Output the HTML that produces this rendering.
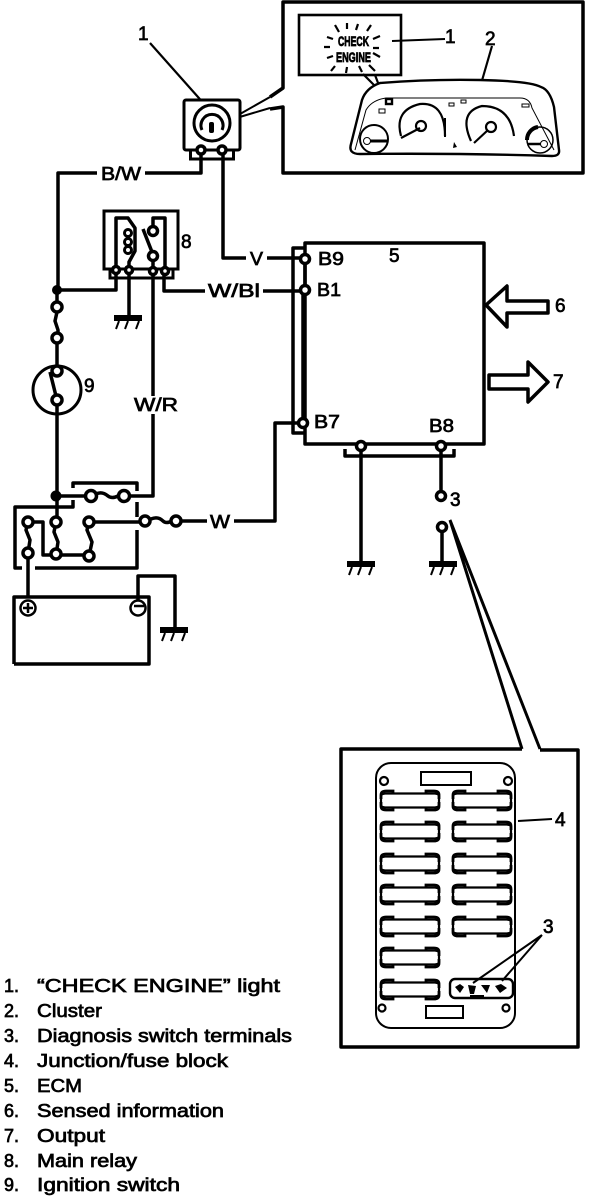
<!DOCTYPE html>
<html><head><meta charset="utf-8"><style>
html,body{margin:0;padding:0;background:#fff;width:608px;height:1198px;overflow:hidden}
svg{display:block}
text{font-family:"Liberation Sans",sans-serif;fill:#000}
.l{font-size:18px;stroke:#000;stroke-width:.7}
.n{font-size:19px;stroke:#000;stroke-width:.7}
.w{fill:none;stroke:#000;stroke-width:3.5;stroke-linejoin:round}
.t{fill:none;stroke:#000;stroke-width:2.2}
.c{fill:#fff;stroke:#000;stroke-width:3.5}
</style></head><body>
<svg width="608" height="1198" viewBox="0 0 608 1198" xmlns="http://www.w3.org/2000/svg">
<defs>
<g id="fl">
<path d="M2 6Q2 4 6 3.500H56Q60 4 60 6V15Q60 17 56 17.500H6Q2 17 2 15Z" fill="#fff" stroke="#000" stroke-width="2.200"/>
<path d="M2 9V5Q2 1 7 1H14V3M47 3V1H55Q60 1 60 5V9M2 12V16Q2 20 7 20H14V18M47 18V20H55Q60 20 60 16V12" fill="none" stroke="#000" stroke-width="2.800"/>
</g>
<g id="gnd"><rect x="0" y="0" width="28" height="6" fill="#000"/><path d="M5 6l-3 8M14 6l-3 8M25 6l-3 8" fill="none" stroke="#000" stroke-width="2"/></g>
</defs>

<!-- cluster callout -->
<path class="w" d="M270 97L283 88V2H583V173H283V107L270 109"/>
<rect x="299" y="15" width="102" height="60" fill="#fff" stroke="#000" stroke-width="2.600"/>
<text x="338" y="46" font-size="14" font-weight="700" textLength="31" lengthAdjust="spacingAndGlyphs" style="stroke:#000;stroke-width:.8">CHECK</text>
<text x="336" y="62" font-size="14" font-weight="700" textLength="35" lengthAdjust="spacingAndGlyphs" style="stroke:#000;stroke-width:.8">ENGINE</text>
<path class="t" d="M335 25l4 7M347 23v6M358 24l-2 6M371 25l-4 6M327 37l6 2M330 47h-6M327 58l6-2M380 36l-7 3M373 48h6M373 53l7 4M335 66l-4 5M347 67l-1 6M359 66l3 6M369 65l6 6"/>
<path d="M392 41L445 39" fill="none" stroke="#000" stroke-width="2"/>
<text x="445" y="43" class="n">1</text><text x="485" y="45" class="n" font-size="21">2</text>
<path class="t" d="M492 46L481 84"/>
<path class="t" d="M363 74L386 97M375 75L383 96"/>
<path d="M380 83Q430 79 480 80Q530 81 541 87Q550 90 554 107L559 150Q560 156 552 156Q460 153 360 154Q348 154 351 144L362 100Q366 88 380 83Z" fill="#fff" stroke="#000" stroke-width="2.400"/>
<path d="M386 98H520Q530 98 532 108L554 150" fill="none" stroke="#000" stroke-width="1"/>
<path d="M386 98Q372 100 366 110L355 150" fill="none" stroke="#000" stroke-width="1"/>
<rect x="386" y="99" width="6" height="5" fill="#fff" stroke="#000" stroke-width="2.400"/>
<path class="t" d="M401 136Q394 110 420 104Q445 102 445 136"/><path d="M445 118V137" stroke="#000" stroke-width="2"/>
<path class="t" d="M401 138L420 128M471 141Q458 112 482 106Q510 106 514 136"/><path class="t" d="M474 143L488 130"/>
<circle cx="421" cy="126" r="5" class="t" fill="#fff"/><circle cx="491" cy="127" r="5" class="t" fill="#fff"/>
<circle cx="374" cy="139" r="14" fill="none" stroke="#000" stroke-width="2"/><path d="M368 141H387" stroke="#000" stroke-width="3"/><circle cx="367" cy="141" r="3.500" fill="#fff" stroke="#000"/>
<circle cx="540" cy="140" r="13" fill="none" stroke="#000" stroke-width="1.500"/><path d="M527 140A13 13 0 0 1 538 127" fill="none" stroke="#000" stroke-width="4"/><path d="M528 144H545" stroke="#000" stroke-width="2.500"/><circle cx="544" cy="144" r="3.500" fill="#fff" stroke="#000"/>
<path d="M449 103h5v3h-5zM461 100h5v3h-5zM522 104h7v3h-7zM379 109h6v4h-6z" fill="none" stroke="#000"/>
<path d="M454 142l3 5-4 1z" fill="#000"/>

<!-- bulb -->
<text x="138" y="40" class="n" font-size="21">1</text>
<path class="t" d="M150 43L206 106"/>
<path d="M233 118L270 97M233 119L270 108" stroke="#000" stroke-width="2" fill="none"/>
<rect x="184" y="100" width="56" height="50" rx="2" fill="#fff" stroke="#000" stroke-width="3"/>
<rect x="190.500" y="150" width="43" height="9" fill="#fff" stroke="#000" stroke-width="3"/>
<circle cx="212" cy="123" r="18" fill="#fff" stroke="#000" stroke-width="3"/>
<path d="M202 130A11 11 0 1 1 222 130" fill="#fff" stroke="#000" stroke-width="3"/>
<rect x="209" y="122" width="5" height="11" rx="2" fill="#000"/>
<path class="w" d="M201 152V173H58V289M223 152V258H300"/>
<circle cx="201" cy="150" r="4" class="c"/><circle cx="222" cy="150" r="4" class="c"/>

<!-- wire labels -->
<rect x="97" y="165" width="48" height="17" fill="#fff"/>
<text x="101" y="180" class="l" textLength="40" lengthAdjust="spacingAndGlyphs">B/W</text>
<rect x="246" y="250" width="21" height="16" fill="#fff"/>
<text x="250" y="265" class="l" textLength="13" lengthAdjust="spacingAndGlyphs">V</text>

<!-- relay -->
<rect x="104" y="211" width="74" height="58" fill="#fff" stroke="#000" stroke-width="3"/>
<rect x="110" y="269" width="63" height="9" fill="#fff" stroke="#000" stroke-width="3"/>
<path class="w" d="M116 270V218H128L135 228V251L129 262V270"/>
<circle cx="128" cy="233" r="3.500" fill="#fff" stroke="#000" stroke-width="3"/><circle cx="128" cy="242" r="3.500" fill="#fff" stroke="#000" stroke-width="3"/><circle cx="128" cy="250" r="3.500" fill="#fff" stroke="#000" stroke-width="3"/>
<path class="w" d="M153 225V218H165V271M153 256V271M143 229L152 252"/>
<circle cx="153" cy="231" r="4.500" class="c"/><circle cx="153" cy="256" r="4.500" class="c"/>
<path class="w" d="M57 290H116V272M129 272V315M153 272V496H124M164 272V291H300"/>
<circle cx="116" cy="270" r="3.500" class="c"/><circle cx="129" cy="270" r="3.500" class="c"/><circle cx="153" cy="271" r="3.500" class="c"/><circle cx="165" cy="271" r="3.500" class="c"/>
<use href="#gnd" x="114" y="315"/>
<text x="181" y="248" class="n">8</text>
<rect x="205" y="284" width="58" height="14" fill="#fff"/>
<text x="208" y="297" class="l" textLength="52" lengthAdjust="spacingAndGlyphs">W/Bl</text>
<rect x="132" y="396" width="46" height="18" fill="#fff"/>
<text x="134" y="411" class="l" textLength="44" lengthAdjust="spacingAndGlyphs">W/R</text>

<!-- ignition -->
<circle cx="57" cy="290" r="5" fill="#000"/>
<path class="w" d="M57 290V307M57 312L55 321L58 330V338M57 343V368M57 400V522"/>
<circle cx="57" cy="307" r="5" class="c"/><circle cx="57" cy="338" r="5" class="c"/>
<circle cx="57" cy="390" r="24" fill="none" stroke="#000" stroke-width="3"/>
<circle cx="57" cy="371" r="5" class="c"/><circle cx="57" cy="400" r="5" class="c"/>
<path class="w" d="M50 372L56 396"/>
<text x="84" y="392" class="n">9</text>

<!-- main fuse box -->
<path class="w" d="M73 488V483H137V491M137 502V517M137 530V568H35M22 568H15V507H73V500"/>
<circle cx="56" cy="496" r="5.500" fill="#000"/>
<path class="w" d="M56 496H88M96 494Q102 491 108 496Q112 499 118 496"/>
<circle cx="91" cy="496" r="5.500" class="c"/><circle cx="124" cy="496" r="5.500" class="c"/>
<path class="w" d="M28 522L26 530L30 540L28 553M28 522H43V555H89M56 522L54 532L58 542L56 555M89 522L87 530L92 542L89 556M89 522H145M151 519Q158 516 163 521Q166 524 172 521M176 521H207M234 521H275V423H300M28 553V597"/>
<circle cx="28" cy="522" r="5" class="c"/><circle cx="56" cy="522" r="5" class="c"/><circle cx="89" cy="522" r="5" class="c"/><circle cx="28" cy="553" r="5" class="c"/><circle cx="56" cy="554" r="5" class="c"/><circle cx="89" cy="556" r="5" class="c"/>
<circle cx="145" cy="521" r="5" class="c"/><circle cx="176" cy="521" r="5" class="c"/>
<text x="210" y="528" class="l" textLength="20" lengthAdjust="spacingAndGlyphs">W</text>

<!-- battery -->
<path class="w" d="M14 664V597H149V664H14"/>
<circle cx="28" cy="608" r="7.500" fill="#fff" stroke="#000" stroke-width="2.500"/><path d="M23 608H33M28 603V613" stroke="#000" stroke-width="2.500"/>
<circle cx="138" cy="608" r="7.500" fill="#fff" stroke="#000" stroke-width="2.500"/><path d="M134 606H144" stroke="#000" stroke-width="2.500"/>
<path class="w" d="M138 600V576H175V628"/>
<use href="#gnd" x="160" y="627"/>

<!-- ECM -->
<path class="w" d="M305 243H484V444H305ZM305 248H293V433H305"/>
<path class="w" d="M305 259V290M303 290V423"/>
<path class="w" d="M345 449V456H454V449M361 446V562M441 446V496M442 527V562"/>
<circle cx="305" cy="259" r="4.500" class="c"/><circle cx="305" cy="290" r="4.500" class="c"/><circle cx="303" cy="423" r="4.500" class="c"/>
<circle cx="361" cy="446" r="4.500" class="c"/><circle cx="441" cy="446" r="4.500" class="c"/>
<circle cx="441" cy="496" r="4.500" class="c"/><circle cx="442" cy="527" r="4.500" class="c"/>
<use href="#gnd" x="347" y="561"/><use href="#gnd" x="429" y="561"/>
<text x="318" y="265" class="l" textLength="26" lengthAdjust="spacingAndGlyphs">B9</text>
<text x="317" y="296" class="l" textLength="24" lengthAdjust="spacingAndGlyphs">B1</text>
<text x="314" y="428" class="l" textLength="26" lengthAdjust="spacingAndGlyphs">B7</text>
<text x="429" y="432" class="l" textLength="25" lengthAdjust="spacingAndGlyphs">B8</text>
<text x="389" y="262" class="n">5</text>
<text x="450" y="506" class="n">3</text>
<path class="w" d="M486 305L507 286V301H548V313H507V327Z" fill="#fff"/>
<path class="w" d="M489 375H528V362L548 382L528 402V389H489Z" fill="#fff"/>
<text x="555" y="312" class="n">6</text><text x="553" y="388" class="n">7</text>

<!-- fuse block -->
<path d="M450 520L522 749M450 520L540 749" stroke="#000" stroke-width="3" fill="none"/>
<path class="w" d="M522 749H341V1047H578V750H540"/>
<rect x="376" y="763" width="139" height="265" rx="15" fill="#fff" stroke="#000" stroke-width="2"/>
<rect x="421" y="772" width="50" height="13" fill="#fff" stroke="#000" stroke-width="2"/>
<rect x="426" y="1006" width="37" height="12" fill="#fff" stroke="#000" stroke-width="2"/>
<circle cx="384" cy="781" r="4" class="t"/><circle cx="508" cy="781" r="4" class="t"/><circle cx="382" cy="1008" r="3.500" class="t"/><circle cx="506" cy="1008" r="3.500" class="t"/>
<use href="#fl" x="379" y="790"/><use href="#fl" x="379" y="821"/><use href="#fl" x="379" y="853"/><use href="#fl" x="379" y="884"/><use href="#fl" x="379" y="916"/><use href="#fl" x="379" y="947"/><use href="#fl" x="379" y="979"/>
<use href="#fl" x="451" y="790"/><use href="#fl" x="451" y="821"/><use href="#fl" x="451" y="853"/><use href="#fl" x="451" y="884"/><use href="#fl" x="451" y="916"/>
<rect x="450" y="979" width="63" height="19" rx="5" fill="#fff" stroke="#000" stroke-width="2.400"/>
<path d="M455 987l5-3 4 3-4 6zM468 985l8 1-2 8h-4zM481 985h9l-3 8zM495 986l6-2 6 4-7 5z" fill="#000"/><path d="M470 996h14" stroke="#000" stroke-width="2"/>
<path d="M518 821L552 819" stroke="#000" stroke-width="2" fill="none"/>
<text x="555" y="826" class="n" font-size="20">4</text>
<text x="543" y="933" class="n" font-size="20">3</text>
<path d="M542 935L473 983M542 935L502 981" stroke="#000" stroke-width="2" fill="none"/>

<!-- legend -->
<g class="l">
<text x="4" y="992">1.</text><text x="37" y="992" textLength="243" lengthAdjust="spacingAndGlyphs">“CHECK ENGINE” light</text>
<text x="4" y="1017">2.</text><text x="37" y="1017" textLength="65" lengthAdjust="spacingAndGlyphs">Cluster</text>
<text x="4" y="1042">3.</text><text x="37" y="1042" textLength="255" lengthAdjust="spacingAndGlyphs">Diagnosis switch terminals</text>
<text x="4" y="1067">4.</text><text x="37" y="1067" textLength="191" lengthAdjust="spacingAndGlyphs">Junction/fuse block</text>
<text x="4" y="1092">5.</text><text x="37" y="1092" textLength="45" lengthAdjust="spacingAndGlyphs">ECM</text>
<text x="4" y="1117">6.</text><text x="37" y="1117" textLength="187" lengthAdjust="spacingAndGlyphs">Sensed information</text>
<text x="4" y="1142">7.</text><text x="37" y="1142" textLength="68" lengthAdjust="spacingAndGlyphs">Output</text>
<text x="4" y="1167">8.</text><text x="37" y="1167" textLength="100" lengthAdjust="spacingAndGlyphs">Main relay</text>
<text x="4" y="1191">9.</text><text x="37" y="1191" textLength="143" lengthAdjust="spacingAndGlyphs">Ignition switch</text>
</g>
</svg>
</body></html>
